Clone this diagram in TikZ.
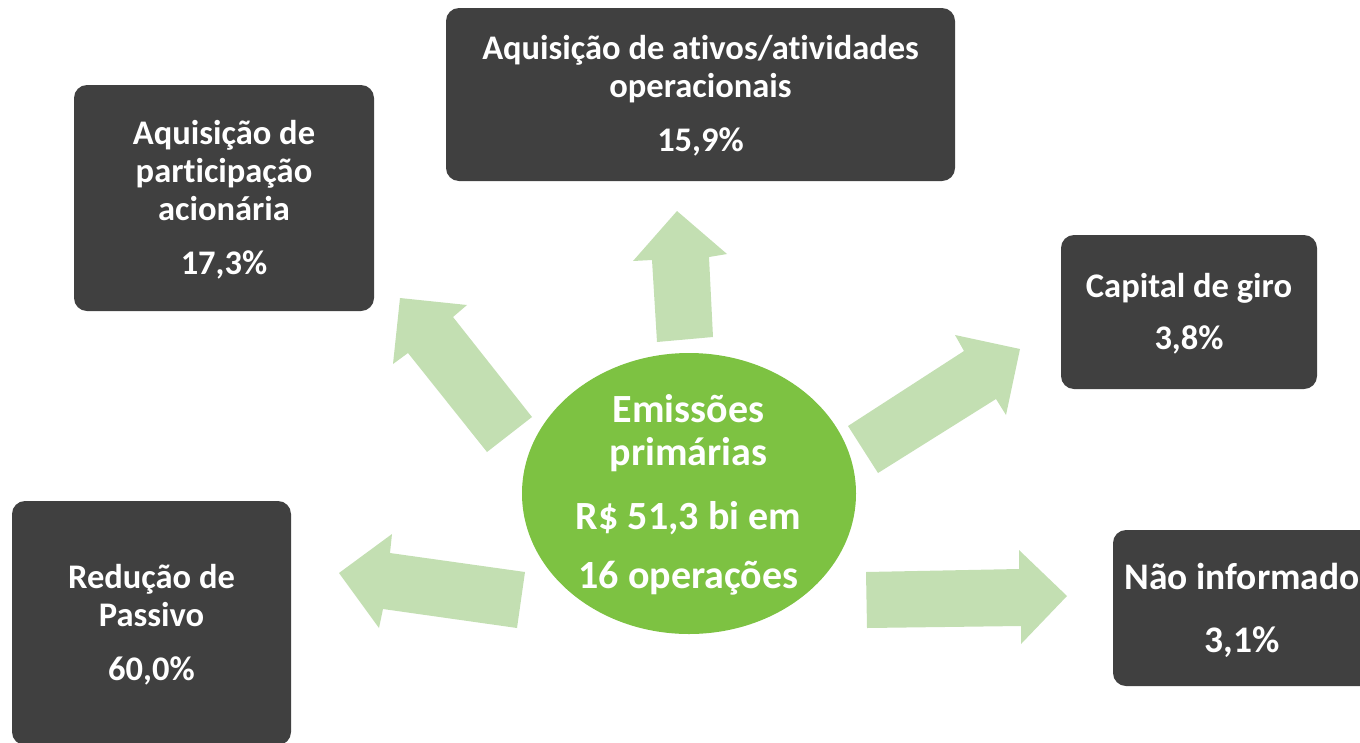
\documentclass[tikz,border=0pt]{standalone}
\usepackage{fontspec}
\setmainfont[Ligatures=NoCommon]{Carlito}
\definecolor{boxgray}{HTML}{404040}
\definecolor{ellgreen}{HTML}{7DC242}
\definecolor{arrgreen}{HTML}{C3DFB2}
\tikzset{
  darkbox/.style={fill=boxgray, rounded corners=13pt, draw=none, inner sep=0pt},
  boxtext/.style={text=white, align=center, font=\fontsize{34.5}{38}\selectfont\bfseries, inner sep=0pt},
  bigboxtext/.style={text=white, align=center, font=\fontsize{37.5}{43}\selectfont\bfseries, inner sep=0pt},
  centertext/.style={text=white, align=center, font=\fontsize{40}{43}\selectfont\bfseries, inner sep=0pt},
  blockarrow/.style={fill=arrgreen, draw=none}
}
\begin{document}
\begin{tikzpicture}[x=1pt,y=-1pt]
\useasboundingbox (0,0) rectangle (1360,742);
\clip (0,0) rectangle (1360,742);

% block arrows
\fill[blockarrow] (339,573) -- (392,534) -- (390,553) -- (525,572) -- (517,628) -- (383,609) -- (379,628) -- cycle;
\fill[blockarrow] (848,426) -- (964,351) -- (955,335) -- (1020,349) -- (1006,415) -- (996,399) -- (878,473) -- cycle;
\fill[blockarrow] (677,211) -- (727,254) -- (709,257) -- (713,337) -- (657,342) -- (652,260) -- (633,261) -- cycle;
\fill[blockarrow] (400,298) -- (467,305) -- (453,317) -- (532,417) -- (487,452) -- (408,353) -- (393,364) -- cycle;
\fill[blockarrow] (866,572) -- (1019,569) -- (1019,550) -- (1067,596) -- (1021,644) -- (1021,626) -- (867,628) -- cycle;

% center ellipse
\fill[ellgreen] (689,493.5) ellipse [x radius=167, y radius=140.5];
\node[centertext] (center) at (688.5,495) {Emissões\\primárias\\[21pt]R\$ 51,3 bi em\\[16pt]16 operações};

% boxes
\fill[darkbox] (446,8) rectangle (955,181);
\node[boxtext] (top) at (700.5,96) {Aquisição de ativos/atividades\\operacionais\\[16pt]15,9\%};

\fill[darkbox] (74,85) rectangle (374,311);
\node[boxtext] (lu) at (224,200) {Aquisição de\\participação\\acionária\\[16pt]17,3\%};

\fill[darkbox] (1061,235) rectangle (1317,389);
\node[boxtext] (ru) at (1189,314) {Capital de giro\\[14pt]3,8\%};

\fill[darkbox] (12,501) rectangle (291,745);
\node[boxtext] (ll) at (151.5,625) {Redução de\\Passivo\\[16pt]60,0\%};

\fill[darkbox] (1113,530) rectangle (1375,686);
\node[bigboxtext] (rl) at (1242,610) {Não informado\\[20pt]3,1\%};
\end{tikzpicture}
\end{document}
